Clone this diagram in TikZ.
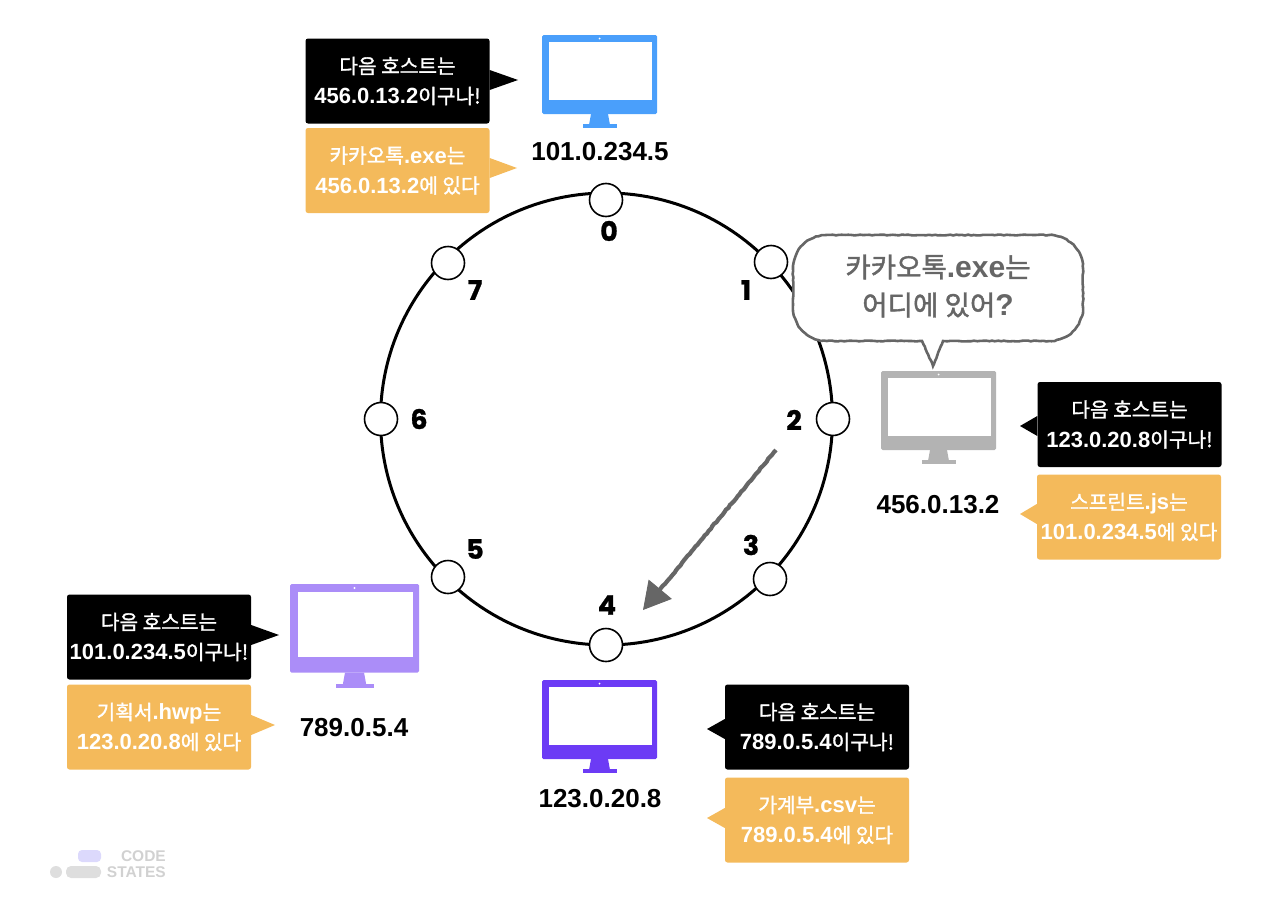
\documentclass[tikz,border=0pt]{standalone}
\usepackage{fontspec}
\usepackage{xcolor}
\usepackage{tikz}
\usetikzlibrary{calc,arrows.meta,decorations.pathmorphing}
\setmainfont{Liberation Sans}
\newfontfamily\kr[Scale=0.92, BoldFont={Noto Sans CJK KR}, BoldFeatures={FakeBold=1.5}]{Noto Sans CJK KR}
\newfontfamily\slotfont[BoldFeatures={FakeBold=0.9}]{Poppins}

\definecolor{hostblue}{HTML}{4A9FFB}
\definecolor{hostgrey}{HTML}{B3B3B3}
\definecolor{hostlilac}{HTML}{AB8DF8}
\definecolor{hostviolet}{HTML}{6C3BF5}
\definecolor{noteorange}{HTML}{F4BA5B}
\definecolor{sketchgrey}{HTML}{666666}

\tikzset{
	slot/.style={circle, draw=black, fill=white, line width=1.6, minimum size=33pt, inner sep=0},
	slotnum/.style={inner sep=0, font=\fontsize{27}{27}\selectfont\slotfont\bfseries},
	ipnum/.style={inner sep=0, font=\fontsize{26}{26}\selectfont\bfseries},
	notebox/.style={minimum width=184pt, minimum height=85pt, inner sep=0, rounded corners=2.5pt, text=white, align=center, font=\fontsize{22}{30}\selectfont\bfseries},
	nextbox/.style={notebox, fill=black},
	filebox/.style={notebox, fill=noteorange},
	sketchy/.style={decorate, decoration={random steps, segment length=3pt, amplitude=0.45pt}}
}

% side of the box that faces the tip, tip, colour
\newcommand{\notetip}[3]{\fill[#3] ($(#1 |- #2)+(0,-10)$)--(#2)--($(#1 |- #2)+(0,10)$)--cycle;}

\begin{document}
\begin{tikzpicture}[x=1pt, y=-1pt]
\pgfmathsetseed{11}

\useasboundingbox (0,0) rectangle (1274,902);

% ring and its slots
\node[circle, draw=black, line width=3, minimum size=452pt, inner sep=0] (ring) at (606.5,419) {};

\node[slot] (s0) at (606,200) {};
\node[slot] (s1) at (771,262) {};
\node[slot] (s2) at (833,419) {};
\node[slot] (s3) at (770,579) {};
\node[slot] (s4) at (606,645) {};
\node[slot] (s5) at (448,577) {};
\node[slot] (s6) at (381,419) {};
\node[slot] (s7) at (448,263) {};

\node[slotnum] (n0) at (609,231) {0};
\node[slotnum] (n1) at (746,290) {1};
\node[slotnum] (n2) at (794,420) {2};
\node[slotnum] (n3) at (751,545) {3};
\node[slotnum] (n4) at (607,605) {4};
\node[slotnum] (n5) at (475,549) {5};
\node[slotnum] (n6) at (419,419) {6};
\node[slotnum] (n7) at (475,290) {7};

% monitors
\foreach \mx/\my/\ms/\mc in {542/35/1/hostblue, 881/371/1/hostgrey, 290/584/1.122/hostlilac, 542/680/1/hostviolet}{
	\begin{scope}[shift={(\mx,\my)}, scale=\ms]
	\fill[\mc, rounded corners=1.5pt] (0,0) rectangle (115,79);
	\fill[white] (7,7) rectangle (110,65);
	\fill[white] (57.5,3.5) circle (1);
	\fill[\mc] (49,79)--(66,79)--(68,90)--(47,90)--cycle;
	\fill[\mc] (41,89)--(75,89)--(75,93)--(41,93)--cycle;
	\end{scope}
}

\node[ipnum] (ip0) at (600,152) {101.0.234.5};
\node[ipnum] (ip2) at (938,505) {456.0.13.2};
\node[ipnum] (ip4) at (600,799) {123.0.20.8};
\node[ipnum] (ip5) at (354,728) {789.0.5.4};

% notes
\coordinate (t0a) at (518,80);
\coordinate (t0b) at (517,168);
\coordinate (t2a) at (1020,426);
\coordinate (t2b) at (1020,514);
\coordinate (t4a) at (707,729);
\coordinate (t4b) at (707,818);
\coordinate (t5a) at (279,635);
\coordinate (t5b) at (275,725);

\node[nextbox] (next0) at (397.5,81) {{\kr 다음 호스트는}\\456.0.13.2{\kr 이구나!}};
\node[filebox] (file0) at (397.5,170.5) {{\kr 카카오톡}.exe{\kr 는}\\456.0.13.2{\kr 에 있다}};
\node[nextbox] (next2) at (1129.5,424.5) {{\kr 다음 호스트는}\\123.0.20.8{\kr 이구나!}};
\node[filebox] (file2) at (1129,517) {{\kr 스프린트}.js{\kr 는}\\101.0.234.5{\kr 에 있다}};
\node[nextbox] (next4) at (817,727) {{\kr 다음 호스트는}\\789.0.5.4{\kr 이구나!}};
\node[filebox] (file4) at (817,820) {{\kr 가계부}.csv{\kr 는}\\789.0.5.4{\kr 에 있다}};
\node[nextbox] (next5) at (159,637) {{\kr 다음 호스트는}\\101.0.234.5{\kr 이구나!}};
\node[filebox] (file5) at (159,727) {{\kr 기획서}.hwp{\kr 는}\\123.0.20.8{\kr 에 있다}};

\notetip{next0.east}{t0a}{black}
\notetip{file0.east}{t0b}{noteorange}
\notetip{next2.west}{t2a}{black}
\notetip{file2.west}{t2b}{noteorange}
\notetip{next4.west}{t4a}{black}
\notetip{file4.west}{t4b}{noteorange}
\notetip{next5.east}{t5a}{black}
\notetip{file5.east}{t5b}{noteorange}

% speech bubble
\draw[sketchgrey, fill=white, line width=2.6, sketchy] (793,269) .. controls (793,250) and (808,235) .. (827,235)--(1049,235) .. controls (1068,235) and (1083,250) .. (1083,269)--(1083,307) .. controls (1083,326) and (1068,341) .. (1049,341)--(943,341)--(933,366)--(922,341)--(827,341) .. controls (808,341) and (793,326) .. (793,307)--cycle;
\node[inner sep=0, text=sketchgrey, align=center, font=\fontsize{30}{38}\selectfont\bfseries] (ask) at (938,286) {{\kr 카카오톡}.exe{\kr 는}\\{\kr 어디에 있어}?};

% arrow
\coordinate (from) at (776,450);
\coordinate (to) at (643,610);
\coordinate (neck) at ($(to)!25pt!(from)$);
\draw[sketchgrey, line width=4.2, sketchy] (from)--(neck);
\draw[sketchgrey, line width=1, -{Triangle[length=27pt, width=30pt]}] (neck)--(to);

% logo
\fill[black!13] (56,872) circle (6);
\fill[black!13, rounded corners=5pt] (66,866) rectangle (101,878);
\fill[violet!15!blue!15, rounded corners=4pt] (78,850) rectangle (101,862);
\node[anchor=east, inner sep=0, text=black!18, font=\fontsize{15.5}{16}\selectfont\bfseries] (code) at (166,856) {CODE};
\node[anchor=east, inner sep=0, text=black!18, font=\fontsize{15.5}{16}\selectfont\bfseries] (states) at (166,872) {STATES};

\end{tikzpicture}
\end{document}
